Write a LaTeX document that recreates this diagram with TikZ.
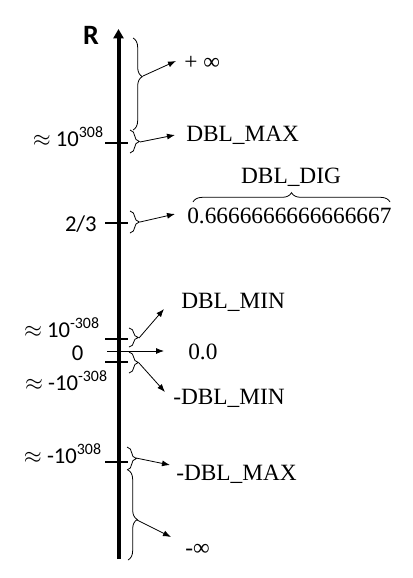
\documentclass[tikz,border=0pt]{standalone}
\usepackage{fontspec}
\setmainfont{Liberation Serif}
\newfontfamily\calibri{Carlito}
\usetikzlibrary{positioning,decorations.pathreplacing,arrows.meta}

\newcommand{\apx}{\(\approx\)\ }

\begin{document}
\begin{tikzpicture}[x=0.75pt, y=-0.75pt,
	lbl/.style={font=\fontsize{17.5}{20}\selectfont, inner sep=0pt, anchor=base west},
	num/.style={font=\calibri\fontsize{17}{20}\selectfont, inner sep=0pt, anchor=base east},
	brc/.style={decorate, decoration={brace, amplitude=7pt}, line width=0.6pt},
	arr/.style={-{Latex[length=6pt, width=4.5pt]}, line width=0.6pt},
	tck/.style={line width=0.8pt}]
	
	\useasboundingbox (0,0) rectangle (412,578);
	
	\coordinate (axb) at (118.5,559);
	\coordinate (axt) at (118.5,29);
	\draw[line width=3pt, -{Triangle[length=7pt, width=7.5pt]}] (axb) -- (axt);
	\node[font=\calibri\bfseries\fontsize{21}{24}\selectfont, inner sep=0pt] (R) at (91,35) {R};
	
	\foreach \y in {143,223,339,362,462}
		\draw[tck] (105,\y) -- (128,\y);
	
	\node[num] (pmax) at (104,146) {\apx 10\textsuperscript{308}};
	\node[num] (twothirds) at (97,231) {2/3};
	\node[num] (pmin) at (100,337) {\apx 10\textsuperscript{-308}};
	\node[num, anchor=center] (zero) at (77.5,353) {0};
	\node[num] (nmin) at (108,390) {\apx -10\textsuperscript{-308}};
	\node[num] (nmax) at (102,463) {\apx -10\textsuperscript{308}};
	
	\node[lbl] (pinf) at (184,69) {+ ∞};
	\node[lbl] (dmax) at (186,141) {DBL\_MAX};
	\node[lbl] (digits) at (187,223) {0.6666666666666667};
	\node[lbl, anchor=base] (ddig) at (291,183) {DBL\_DIG};
	\node[lbl] (dmin) at (181,308) {DBL\_MIN};
	\node[lbl] (zerov) at (188,359) {0.0};
	\node[lbl] (ndmin) at (173,404) {-DBL\_MIN};
	\node[lbl] (ndmax) at (176,480) {-DBL\_MAX};
	\node[lbl] (ninf) at (185,555) {-∞};
	
	\draw[brc] (193,202) -- (390,202);
	\draw[brc, decoration={aspect=0.42}] (133,38) -- (133,130);
	\draw[brc] (130,130) -- (130,153);
	\draw[brc] (130,211) -- (130,233);
	\draw[brc] (129,328) -- (129,347);
	\draw[brc] (129,352) -- (129,373);
	\draw[brc] (127,447) -- (127,470);
	\draw[brc, decoration={aspect=0.55}] (128,470) -- (128,560);
	
	\coordinate (tinf) at (143,76);   \coordinate (ainf) at (176,61);
	\coordinate (tmax) at (140,142);  \coordinate (amax) at (175,135);
	\coordinate (tdig) at (140,222);  \coordinate (adig) at (175,214);
	\coordinate (tmin) at (139,338);  \coordinate (amin) at (164,309);
	\coordinate (z0) at (107,351);    \coordinate (z1) at (164,351);
	\coordinate (tnmin) at (139,363); \coordinate (anmin) at (165,392);
	\coordinate (tnmax) at (136,458); \coordinate (anmax) at (170,465);
	\coordinate (tninf) at (137,520); \coordinate (aninf) at (171,537);
	
	\draw[arr] (tinf) -- (ainf);
	\draw[arr] (tmax) -- (amax);
	\draw[arr] (tdig) -- (adig);
	\draw[arr] (tmin) -- (amin);
	\draw[arr] (z0) -- (z1);
	\draw[arr] (tnmin) -- (anmin);
	\draw[arr] (tnmax) -- (anmax);
	\draw[arr] (tninf) -- (aninf);
	
\end{tikzpicture}
\end{document}
